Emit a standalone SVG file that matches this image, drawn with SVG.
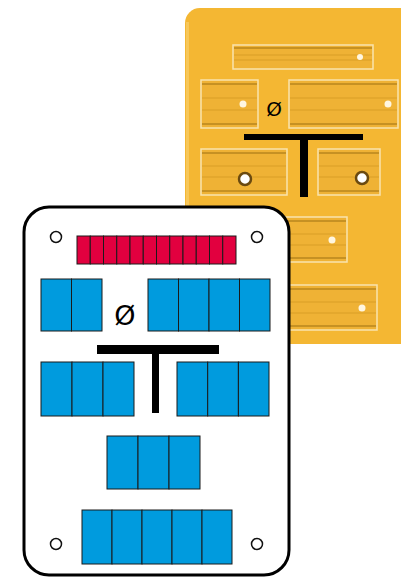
<svg xmlns="http://www.w3.org/2000/svg" width="401" height="578" viewBox="0 0 401 578">
<style>
.slot{fill:#EFB235;stroke:#F9E4AE;stroke-width:1.5}
.sl{stroke:#D99E26;stroke-width:1.2;fill:none}
.sd{stroke:#B9861E;stroke-width:1.4;fill:none}
.dot{fill:#FFF6E0}
.ring{fill:#FFFFFF;stroke:#6B4A10;stroke-width:2.5}
.red{fill:#E2003F;stroke:#1a1a1a;stroke-width:1}
.blue{fill:#009BDE;stroke:#1a1a1a;stroke-width:1}
.hole{fill:#fff;stroke:#111;stroke-width:1.5}
.bar{fill:#000}
.phi{font-family:"DejaVu Sans",sans-serif;fill:#000}
</style>
<rect width="401" height="578" fill="#fff"/>
<g id="yellow-board">
<rect x="185" y="8" width="240" height="336" rx="15" fill="#F4B733"/>
<rect x="186" y="22" width="3" height="306" fill="#F7C75A"/>
<g id="ys1"><rect class="slot" x="233" y="45" width="140" height="24"/><line class="sd" x1="234" y1="48" x2="372" y2="48"/><line class="sl" x1="234" y1="55" x2="372" y2="55"/><line class="sl" x1="234" y1="60" x2="372" y2="60"/><circle class="dot" cx="360" cy="57" r="3"/></g>
<g id="ys2"><rect class="slot" x="201" y="80" width="57" height="48"/><line class="sd" x1="202" y1="84" x2="257" y2="84"/><line class="sl" x1="202" y1="98" x2="257" y2="98"/><line class="sl" x1="202" y1="110" x2="257" y2="110"/><line class="sd" x1="202" y1="124" x2="257" y2="124"/><circle class="dot" cx="243" cy="104" r="3.5"/></g>
<text class="phi" x="274" y="116" font-size="20" text-anchor="middle">Ø</text>
<g id="ys3"><rect class="slot" x="289" y="80" width="109" height="48"/><line class="sd" x1="290" y1="84" x2="397" y2="84"/><line class="sl" x1="290" y1="98" x2="397" y2="98"/><line class="sl" x1="290" y1="110" x2="397" y2="110"/><line class="sd" x1="290" y1="124" x2="397" y2="124"/><circle class="dot" cx="388" cy="104" r="3.5"/></g>
<rect class="bar" x="244" y="134" width="119" height="6"/>
<rect class="bar" x="300" y="140" width="8" height="57"/>
<g id="ys4"><rect class="slot" x="201" y="149" width="86" height="46"/><line class="sd" x1="202" y1="153" x2="286" y2="153"/><line class="sl" x1="202" y1="166" x2="286" y2="166"/><line class="sl" x1="202" y1="177" x2="286" y2="177"/><line class="sd" x1="202" y1="191" x2="286" y2="191"/><circle class="ring" cx="245" cy="179" r="6"/></g>
<g id="ys5"><rect class="slot" x="318" y="149" width="62" height="46"/><line class="sd" x1="319" y1="153" x2="379" y2="153"/><line class="sl" x1="319" y1="166" x2="379" y2="166"/><line class="sl" x1="319" y1="177" x2="379" y2="177"/><line class="sd" x1="319" y1="191" x2="379" y2="191"/><circle class="ring" cx="362" cy="178" r="6"/></g>
<g id="ys6"><rect class="slot" x="280" y="217" width="67" height="45"/><line class="sd" x1="281" y1="221" x2="346" y2="221"/><line class="sl" x1="281" y1="234" x2="346" y2="234"/><line class="sl" x1="281" y1="245" x2="346" y2="245"/><line class="sd" x1="281" y1="258" x2="346" y2="258"/><circle class="dot" cx="332" cy="240" r="3.5"/></g>
<g id="ys7"><rect class="slot" x="280" y="285" width="97" height="45"/><line class="sd" x1="281" y1="289" x2="376" y2="289"/><line class="sl" x1="281" y1="302" x2="376" y2="302"/><line class="sl" x1="281" y1="313" x2="376" y2="313"/><line class="sd" x1="281" y1="326" x2="376" y2="326"/><circle class="dot" cx="362" cy="308" r="3.5"/></g>
</g>
<g id="white-card">
<rect x="24" y="207" width="265" height="368" rx="25" fill="#fff" stroke="#000" stroke-width="3"/>
<circle class="hole" cx="56" cy="237" r="5.5"/>
<circle class="hole" cx="257" cy="237" r="5.5"/>
<circle class="hole" cx="56" cy="544" r="5.5"/>
<circle class="hole" cx="257" cy="544" r="5.5"/>
</g>
<g id="red-bar">
<rect class="red" x="77" y="236" width="13.25" height="28"/><rect class="red" x="90.25" y="236" width="13.25" height="28"/><rect class="red" x="103.5" y="236" width="13.25" height="28"/><rect class="red" x="116.75" y="236" width="13.25" height="28"/><rect class="red" x="130" y="236" width="13.25" height="28"/><rect class="red" x="143.25" y="236" width="13.25" height="28"/><rect class="red" x="156.5" y="236" width="13.25" height="28"/><rect class="red" x="169.75" y="236" width="13.25" height="28"/><rect class="red" x="183" y="236" width="13.25" height="28"/><rect class="red" x="196.25" y="236" width="13.25" height="28"/><rect class="red" x="209.5" y="236" width="13.25" height="28"/><rect class="red" x="222.75" y="236" width="13.25" height="28"/>
</g>
<g id="blue-r1-left"><rect class="blue" x="41" y="279" width="30.5" height="52"/><rect class="blue" x="71.5" y="279" width="30.5" height="52"/></g>
<g id="blue-r1-right"><rect class="blue" x="148" y="279" width="30.5" height="52"/><rect class="blue" x="178.5" y="279" width="30.5" height="52"/><rect class="blue" x="209" y="279" width="30.5" height="52"/><rect class="blue" x="239.5" y="279" width="30.5" height="52"/></g>
<text class="phi" x="125" y="325" font-size="27" text-anchor="middle">Ø</text>
<g id="t-bar"><rect class="bar" x="97" y="345" width="122" height="9"/><rect class="bar" x="152" y="354" width="7" height="59"/></g>
<g id="blue-r2-left"><rect class="blue" x="41" y="362" width="31" height="54"/><rect class="blue" x="72" y="362" width="31" height="54"/><rect class="blue" x="103" y="362" width="31" height="54"/></g>
<g id="blue-r2-right"><rect class="blue" x="177" y="362" width="30.7" height="54"/><rect class="blue" x="207.7" y="362" width="30.7" height="54"/><rect class="blue" x="238.4" y="362" width="30.6" height="54"/></g>
<g id="blue-r3"><rect class="blue" x="107" y="436" width="31" height="53"/><rect class="blue" x="138" y="436" width="31" height="53"/><rect class="blue" x="169" y="436" width="31" height="53"/></g>
<g id="blue-r4"><rect class="blue" x="82" y="510" width="30" height="54"/><rect class="blue" x="112" y="510" width="30" height="54"/><rect class="blue" x="142" y="510" width="30" height="54"/><rect class="blue" x="172" y="510" width="30" height="54"/><rect class="blue" x="202" y="510" width="30" height="54"/></g>
</svg>
